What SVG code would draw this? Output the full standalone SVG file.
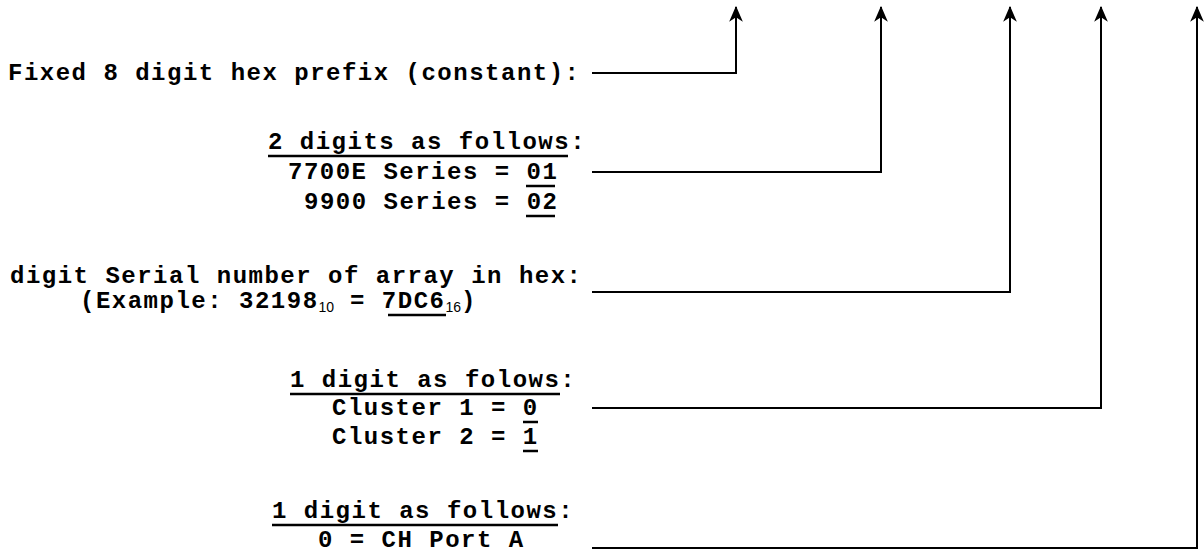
<svg xmlns="http://www.w3.org/2000/svg" width="1204" height="555" viewBox="0 0 1204 555">
  <style>
    .t { font-family: "Liberation Mono", "Courier New", monospace; font-weight: bold; font-size: 24px; letter-spacing: 1.5px; fill: #000; }
    .sub { font-family: "Liberation Sans", Arial, sans-serif; font-weight: normal; font-size: 14px; letter-spacing: 0; }
    .ul { stroke: #000; stroke-width: 2.5; }
    .wire { fill: none; stroke: #000; stroke-width: 2; }
  </style>
  <defs>
    <marker id="head" markerUnits="userSpaceOnUse" markerWidth="16" markerHeight="14" refX="13" refY="6" orient="auto" viewBox="0 0 14 12">
      <path d="M0,0 L14,6 L0,12 L4,6 Z" fill="#000"/>
    </marker>
  </defs>

  <rect width="1204" height="555" fill="#fff"/>

  <!-- prefix -->
  <g id="prefix">
    <text class="t" x="8" y="80">Fixed 8 digit hex prefix (constant):</text>
  </g>

  <!-- model series -->
  <g id="series">
    <text class="t" x="268" y="149">2 digits as follows:</text>
    <line class="ul" x1="268" y1="156" x2="568" y2="156"/>
    <text class="t" x="288" y="179">7700E Series = 01</text>
    <line class="ul" x1="526" y1="186" x2="555" y2="186"/>
    <text class="t" x="304" y="209">9900 Series = 02</text>
    <line class="ul" x1="526" y1="216" x2="555" y2="216"/>
  </g>

  <!-- serial number -->
  <g id="serial">
    <text class="t" x="10" y="283">digit Serial number of array in hex:</text>
    <text class="t" x="80" y="308">(Example: 32198<tspan class="sub" dy="4">10</tspan><tspan dy="-4"> = 7DC6</tspan><tspan class="sub" dy="4">16</tspan><tspan dy="-4">)</tspan></text>
    <line class="ul" x1="388" y1="315" x2="446" y2="315"/>
  </g>

  <!-- cluster -->
  <g id="cluster">
    <text class="t" x="290" y="387">1 digit as folows:</text>
    <line class="ul" x1="290" y1="394" x2="560" y2="394"/>
    <text class="t" x="332" y="415">Cluster 1 = 0</text>
    <line class="ul" x1="523" y1="422" x2="538" y2="422"/>
    <text class="t" x="332" y="444">Cluster 2 = 1</text>
    <line class="ul" x1="523" y1="451" x2="538" y2="451"/>
  </g>

  <!-- port -->
  <g id="port">
    <text class="t" x="272" y="518">1 digit as follows:</text>
    <line class="ul" x1="272" y1="525" x2="558" y2="525"/>
    <text class="t" x="318" y="547">0 = CH Port A</text>
  </g>

  <!-- connectors -->
  <g id="connectors">
    <path class="wire" d="M592,73 H736 V7" marker-end="url(#head)"/>
    <path class="wire" d="M592,172 H881 V7" marker-end="url(#head)"/>
    <path class="wire" d="M592,292 H1010 V7" marker-end="url(#head)"/>
    <path class="wire" d="M592,408 H1101 V7" marker-end="url(#head)"/>
    <path class="wire" d="M592,548 H1197 V7" marker-end="url(#head)"/>
  </g>
</svg>
